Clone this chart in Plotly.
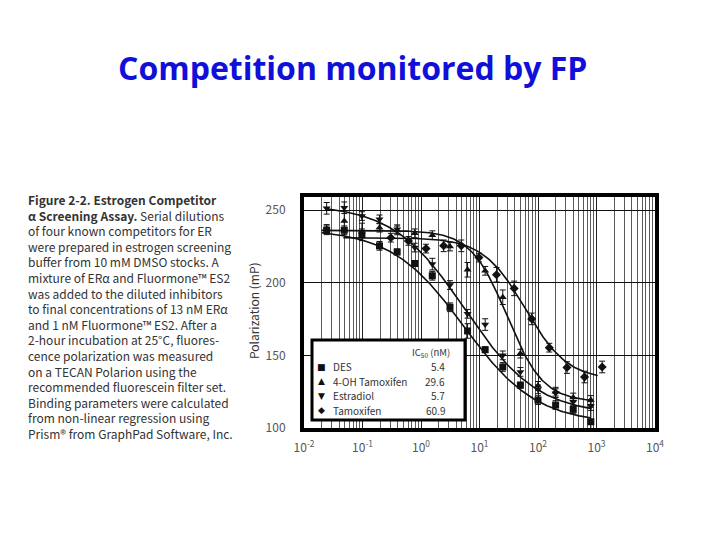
import numpy as np
import plotly.graph_objects as go

# ---------------- data ----------------
conc_main = [0.0244, 0.0488, 0.0977, 0.195, 0.391, 0.781, 1.56, 3.13,
             6.25, 12.5, 25, 50, 100, 200, 400, 800]
conc_tam = [0.305, 0.61, 1.22, 2.44, 4.88, 9.77, 19.5, 39.1, 78.1,
            156, 313, 625, 1250]

des = [236.1, 236.1, 233.0, 225.4, 221.2, 213.2, 204.8, 183.1,
       166.8, 153.9, 142.0, 129.5, 119.2, 115.8, 112.8, 104.3]
des_err = [3, 3, 4, 3, 2, 2, 3, 3, 5, 2, 3, 2, 3, 3, 3, 10]

oh_tam = [237.0, 242.5, 235.0, 237.9, 236.0, 234.0, 232.7, 224.9,
          208.9, 208.2, 190.0, 151.2, 129.0, 125.0, 121.0, 119.3]
oh_tam_err = [3, 7, 6, 3, 3, 3, 3, 3, 5, 3, 5, 3, 3, 3, 3, 3]

estradiol = [251.2, 251.6, 245.9, 243.6, 236.8, 224.2, 212.8, 198.4,
             178.6, 171.2, 150.0, 138.6, 126.6, 124.0, 118.0, 115.1]
estradiol_err = [4, 4, 3, 3, 3, 3, 4, 3, 3, 4, 3, 3, 3, 3, 3, 3]

tamoxifen = [231.0, 228.8, 223.5, 225.4, 225.4, 217.3, 205.5, 196.1,
             175.1, 155.3, 141.6, 135.1, 142.0]
tamoxifen_err = [3, 3, 3, 4, 4, 3, 5, 5, 4, 3, 4, 4, 4]

series_names = ["DES", "4-OH Tamoxifen", "Estradiol", "Tamoxifen"]
ic50 = [5.4, 29.6, 5.7, 60.9]

# fitted sigmoid parameters (non-linear regression curves)
fit_top = [237, 236, 254, 231]
fit_bottom = [103, 118, 109, 133]
fit_hill = [0.7, 1.4, 0.7, 1.2]
fit_from = [0.02, 0.02, 0.023, 0.047]
fit_to = [780, 780, 780, 1050]

x_tickvals = [0.01, 0.1, 1, 10, 100, 1000, 10000]
x_ticktext = ["10<sup>-2</sup>", "10<sup>-1</sup>", "10<sup>0</sup>",
              "10<sup>1</sup>", "10<sup>2</sup>", "10<sup>3</sup>",
              "10<sup>4</sup>"]
y_tickvals = [100, 150, 200, 250]

caption_lines = [
    "<b>Figure 2-2. Estrogen Competitor</b>",
    "<b>α Screening Assay.</b> Serial dilutions",
    "of four known competitors for ER",
    "were prepared in estrogen screening",
    "buffer from 10 mM DMSO stocks. A",
    "mixture of ERα and Fluormone™ ES2",
    "was added to the diluted inhibitors",
    "to final concentrations of 13 nM ERα",
    "and 1 nM Fluormone™ ES2. After a",
    "2-hour incubation at 25°C, fluores-",
    "cence polarization was measured",
    "on a TECAN Polarion using the",
    "recommended fluorescein filter set.",
    "Binding parameters were calculated",
    "from non-linear regression using",
    "Prism® from GraphPad Software, Inc.",
]

# ---------------- layout geometry ----------------
W, H = 720, 540
PL, PR, PT, PB = 304, 655, 197, 428  # plot area in pixels
TXT = "Noto Sans CJK SC, Liberation Sans, sans-serif"


def px2x(px):
    return (px - PL) / (PR - PL)


def px2y(py):
    return (PB - py) / (PB - PT)


fig = go.Figure()

x_sets = [conc_main, conc_main, conc_main, conc_tam]
y_sets = [des, oh_tam, estradiol, tamoxifen]
e_sets = [des_err, oh_tam_err, estradiol_err, tamoxifen_err]
symbols = ["square", "triangle-up", "triangle-down", "diamond"]

# fitted curves
for i in range(4):
    xs = np.logspace(np.log10(fit_from[i]), np.log10(fit_to[i]), 200)
    ys = fit_bottom[i] + (fit_top[i] - fit_bottom[i]) / (
        1 + (xs / ic50[i]) ** fit_hill[i])
    fig.add_trace(go.Scatter(x=xs, y=ys, mode="lines",
                             line=dict(color="#111", width=1.6),
                             showlegend=False, hoverinfo="skip"))

# data points
for i in range(4):
    fig.add_trace(go.Scatter(
        x=x_sets[i], y=y_sets[i], mode="markers", name=series_names[i],
        marker=dict(symbol=symbols[i], size=7, color="#111"),
        error_y=dict(type="data", array=e_sets[i], visible=True,
                     color="#111", thickness=1, width=3),
        showlegend=False))

minor_vals = [m * 10 ** d for d in range(-2, 4) for m in range(2, 10)]

fig.update_xaxes(
    type="log", range=[-2, 4], tickmode="array", tickvals=x_tickvals,
    ticktext=x_ticktext, showgrid=True, gridcolor="#222", gridwidth=1.2,
    minor=dict(tickmode="array", tickvals=minor_vals, showgrid=True,
               gridcolor="#5a5a5a", gridwidth=1.2, ticks=""),
    showline=True, mirror=True, linecolor="black", linewidth=4,
    ticks="", zeroline=False, ticklabelstandoff=6,
    tickfont=dict(family=TXT, size=12, color="#555"))
fig.update_yaxes(
    range=[100, 259], tickmode="array", tickvals=y_tickvals,
    showgrid=True, gridcolor="#111", gridwidth=1.2,
    showline=True, mirror=True, linecolor="black", linewidth=4,
    ticks="", zeroline=False, ticklabelstandoff=12,
    tickfont=dict(family=TXT, size=12, color="#555"))

annotations = []
shapes = []

# title
annotations.append(dict(
    text="Competition monitored by FP", xref="paper", yref="paper",
    x=px2x(352), y=px2y(68), showarrow=False, xanchor="center",
    yanchor="middle",
    font=dict(family="Open Sans, Lato, sans-serif", size=32,
              color="#1010d8", weight="bold")))

# caption text (one multi-line block)
annotations.append(dict(
    text="<br>".join(caption_lines), xref="paper", yref="paper",
    x=px2x(26), y=px2y(316), showarrow=False, xanchor="left",
    yanchor="middle", align="left",
    font=dict(family=TXT, size=12, color="#333")))

# y-axis title
annotations.append(dict(
    text="Polarization (mP)", xref="paper", yref="paper", x=px2x(253),
    y=px2y(311), showarrow=False, textangle=-90, xanchor="center",
    yanchor="middle",
    font=dict(family=TXT, size=12, color="#333")))

# legend box
shapes.append(dict(type="rect", xref="paper", yref="paper",
                   x0=px2x(312), x1=px2x(465), y0=px2y(420), y1=px2y(340),
                   fillcolor="white", line=dict(color="black", width=3),
                   layer="above"))
annotations.append(dict(
    text="IC<sub>50</sub> (nM)", xref="paper", yref="paper", x=px2x(431),
    y=px2y(352), showarrow=False, xanchor="center", yanchor="middle",
    font=dict(family=TXT, size=9.5, color="#333")))
glyphs = ["■", "▲", "▼", "◆"]
row_y = [366.5, 381, 395.5, 410]
for i in range(4):
    annotations.append(dict(
        text=glyphs[i], xref="paper", yref="paper", x=px2x(321),
        y=px2y(row_y[i]), showarrow=False, xanchor="center",
        yanchor="middle",
        font=dict(family="DejaVu Sans", size=9, color="#111")))
    annotations.append(dict(
        text=series_names[i], xref="paper", yref="paper", x=px2x(331),
        y=px2y(row_y[i]), showarrow=False, xanchor="left",
        yanchor="middle",
        font=dict(family=TXT, size=10, color="#333")))
    annotations.append(dict(
        text=str(ic50[i]), xref="paper", yref="paper", x=px2x(447),
        y=px2y(row_y[i]), showarrow=False, xanchor="right",
        yanchor="middle",
        font=dict(family=TXT, size=10, color="#333")))

fig.update_layout(
    width=W, height=H, autosize=False,
    margin=dict(l=PL, r=W - PR, t=PT, b=H - PB, pad=0),
    paper_bgcolor="white", plot_bgcolor="white",
    showlegend=False, annotations=annotations, shapes=shapes)

fig.write_html("out.html", config={"displayModeBar": False},
               post_script="document.body.style.margin='0';")
